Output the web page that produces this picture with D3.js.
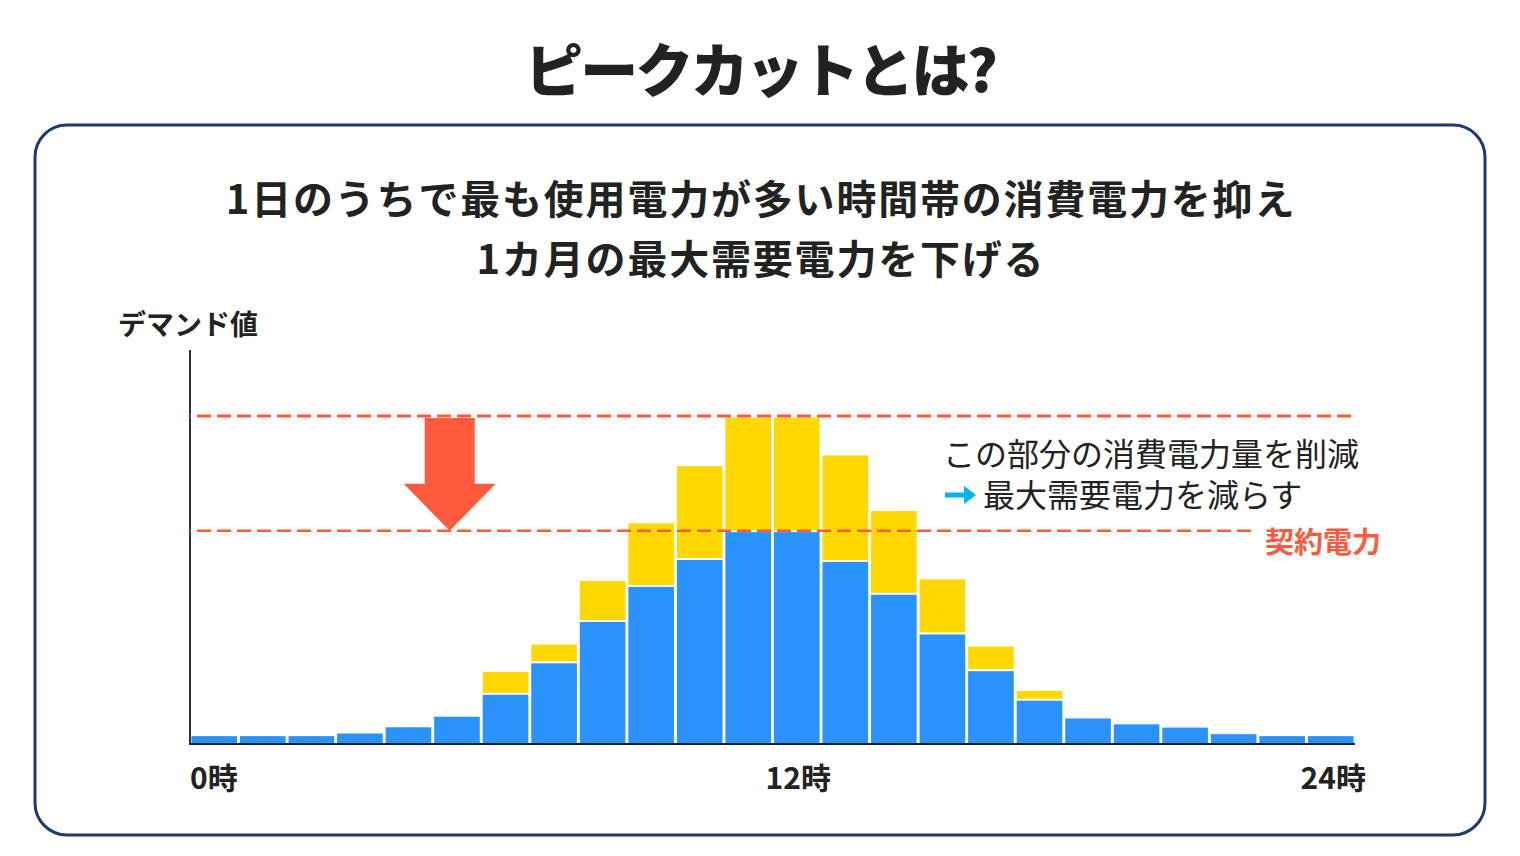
<!DOCTYPE html>
<html><head><meta charset="utf-8">
<script src="https://cdn.jsdelivr.net/npm/d3@7"></script>
<style>
html,body{margin:0;padding:0;background:#fff;}
svg{display:block;font-family:"Noto Sans CJK JP","Noto Sans",sans-serif;}
</style></head>
<body>
<svg id="c" width="1520" height="856"></svg>
<script>
const hours = d3.range(24);
const baseValues = [2.4,2.4,2.4,3.2,5.1,8.3,15,24.6,37.2,47.9,56.1,64.6,64.6,55.5,45.5,33.4,22.2,13.2,7.8,6,5,3,2.4,2.4];
const totalValues = [2.4,2.4,2.4,3.2,5.1,8.3,22,30.3,49.7,67.3,84.7,99.5,99.5,88,71,50.2,29.7,16.2,7.8,6,5,3,2.4,2.4];
const peakValue = 100;
const contractValue = 65;
const tickLabels = [{h:0,t:"0時"},{h:12,t:"12時"},{h:24,t:"24時"}];
const titleText = "ピークカットとは?";
const subtitleLines = ["1日のうちで最も使用電力が多い時間帯の消費電力を抑え","1カ月の最大需要電力を下げる"];
const noteLines = ["この部分の消費電力量を削減","最大需要電力を減らす"];
const yLabel = "デマンド値";
const contractLabel = "契約電力";

const BLUE="#2a93fb", YELLOW="#ffd800", RED="#ff5a3c", CYAN="#00b4ea", DARK="#222";

const svg = d3.select("#c");
const L=190, R=1355, B=744, T=416;
const x = d3.scaleLinear().domain([0,24]).range([L,R]);
const xb = d3.scaleBand().domain(hours).range([L,R]).paddingInner(0.06).paddingOuter(0.03);
const y = d3.scaleLinear().domain([0,peakValue]).range([B,T]);

// frame
svg.append("rect").attr("x",35).attr("y",125).attr("width",1450).attr("height",710)
  .attr("rx",32).attr("fill","#fff").attr("stroke","#1d3a6c").attr("stroke-width",3);

svg.append("text").attr("x",760).attr("y",92).attr("text-anchor","middle")
  .attr("font-size",58).attr("font-weight",900).attr("letter-spacing",-2.8).attr("fill",DARK).text(titleText);

svg.selectAll(".sub").data(subtitleLines).join("text")
  .attr("x",761).attr("y",(d,i)=>214+i*60).attr("text-anchor","middle")
  .attr("font-size",40).attr("font-weight",700).attr("letter-spacing",1.8).attr("fill",DARK).text(d=>d);

svg.append("text").attr("x",118).attr("y",335).attr("font-size",28).attr("font-weight",700)
  .attr("fill",DARK).text(yLabel);

// bars
const g = svg.append("g");
g.selectAll(".blue").data(hours).join("rect")
  .attr("x",d=>xb(d)).attr("width",xb.bandwidth())
  .attr("y",d=>y(baseValues[d])).attr("height",d=>B-y(baseValues[d]))
  .attr("fill",BLUE);
g.selectAll(".yel").data(hours.filter(h=>totalValues[h]>baseValues[h]+0.01)).join("rect")
  .attr("x",d=>xb(d)).attr("width",xb.bandwidth())
  .attr("y",d=>y(totalValues[d])).attr("height",d=>Math.max(0,y(baseValues[d])-2-y(totalValues[d])))
  .attr("fill",YELLOW);

// axes
svg.append("line").attr("x1",L).attr("x2",L).attr("y1",350).attr("y2",B+1)
  .attr("stroke","#333").attr("stroke-width",2);
svg.append("line").attr("x1",L-1).attr("x2",R).attr("y1",B).attr("y2",B)
  .attr("stroke","#222").attr("stroke-width",2.2);

// red arrow
const ax = x(5.35), aTop=y(peakValue)+2, aTip=y(contractValue), aNeck=aTip-47;
svg.append("path").attr("fill",RED)
  .attr("d",`M${ax-25},${aTop}L${ax+25},${aTop}L${ax+25},${aNeck}L${ax+46},${aNeck}L${ax},${aTip}L${ax-46},${aNeck}L${ax-25},${aNeck}Z`);

// dashed lines
svg.append("line").attr("x1",L).attr("x2",R).attr("y1",y(peakValue)).attr("y2",y(peakValue))
  .attr("stroke",RED).attr("stroke-width",2.8).attr("stroke-dasharray","14,6").attr("stroke-dashoffset",13);
svg.append("line").attr("x1",L).attr("x2",1253).attr("y1",y(contractValue)).attr("y2",y(contractValue))
  .attr("stroke",RED).attr("stroke-width",2.6).attr("stroke-dasharray","14,6").attr("stroke-dashoffset",13);

svg.append("text").attr("x",1265).attr("y",553).attr("font-size",29).attr("font-weight",700)
  .attr("fill",RED).text(contractLabel);

// note
svg.append("text").attr("x",943).attr("y",466).attr("font-size",32).attr("fill",DARK).text(noteLines[0]);
svg.append("text").attr("x",983).attr("y",507).attr("font-size",32).attr("fill",DARK).text(noteLines[1]);
svg.append("path").attr("fill",CYAN)
  .attr("d","M945,492.5L964,492.5L964,486L976,495L964,504L964,497.5L945,497.5Z");

// tick labels
svg.selectAll(".tick").data(tickLabels).join("text")
  .attr("x",d=>x(d.h)+(d.h===0?0:d.h===12?-7:11))
  .attr("y",789)
  .attr("text-anchor",d=>d.h===24?"end":"start")
  .attr("font-size",30).attr("font-weight",700).attr("fill",DARK).text(d=>d.t);
</script>
</body></html>
